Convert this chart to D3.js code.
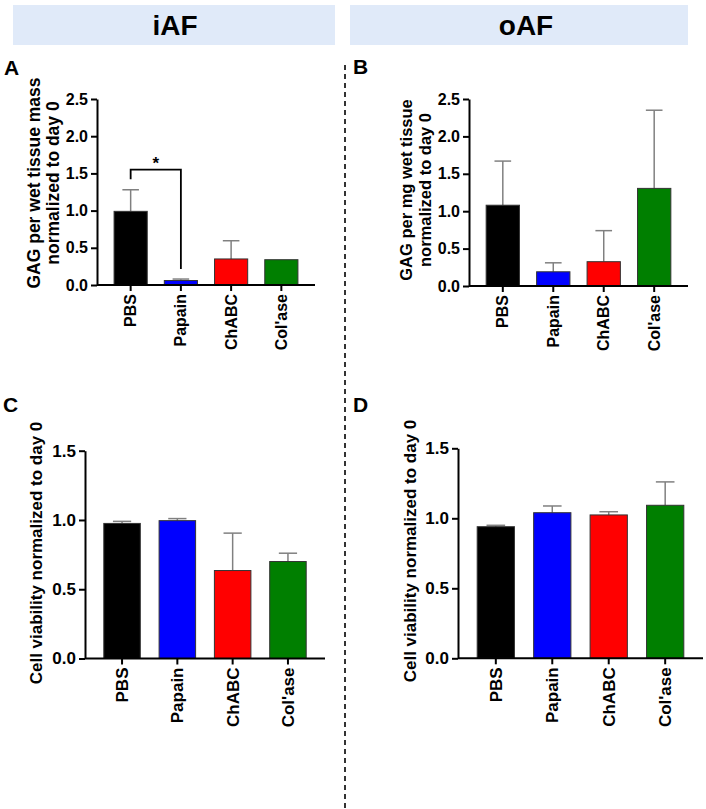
<!DOCTYPE html>
<html>
<head>
<meta charset="utf-8">
<script src="https://cdn.jsdelivr.net/npm/d3@7"></script>
<style>
  html, body { margin: 0; padding: 0; background: #fff; }
  svg { display: block; }
  text { font-family: "Liberation Sans", Arial, sans-serif; font-weight: bold; fill: #000; }
</style>
</head>
<body>
<svg id="chart" width="706" height="809"></svg>
<script>
// ---------- data ----------
const categories = ["PBS", "Papain", "ChABC", "Col'ase"];
const barColors = ["#000000", "#0000ff", "#ff0000", "#007f00"];

const gagIafMean = [0.99, 0.06, 0.35, 0.34];
const gagIafSd   = [0.29, 0.02, 0.245, 0.0];
const gagOafMean = [1.08, 0.19, 0.325, 1.305];
const gagOafSd   = [0.59, 0.12, 0.415, 1.045];
const viaIafMean = [0.975, 0.995, 0.635, 0.70];
const viaIafSd   = [0.015, 0.015, 0.27, 0.06];
const viaOafMean = [0.94, 1.04, 1.024, 1.093];
const viaOafSd   = [0.01, 0.048, 0.023, 0.167];

const gagTicks = [0, 0.5, 1.0, 1.5, 2.0, 2.5];
const viaTicks = [0, 0.5, 1.0, 1.5];

const headers = ["iAF", "oAF"];
const yLabelA = ["GAG per wet tissue mass", "normalized to day 0"];
const yLabelB = ["GAG per mg wet tissue", "normalized to day 0"];
const yLabelCD = ["Cell viability normalized to day 0"];

// significance bracket (panel A): PBS vs Papain
const sigPair = ["PBS", "Papain"];
const sigLevels = { top: 1.55, leftEnd: 1.42, rightEnd: 0.215, star: 1.66 };
const sigLabel = "*";

// ---------- layout ----------
const svg = d3.select("#chart");

const headerBoxes = [
  { x0: 13, x1: 335, cx: 175 },
  { x0: 350, x1: 688, cx: 526 }
];
headerBoxes.forEach((b, i) => {
  svg.append("rect").attr("x", b.x0).attr("y", 5).attr("width", b.x1 - b.x0).attr("height", 40)
    .attr("fill", "#e0eaf9");
  svg.append("text").attr("x", b.cx).attr("y", 35).attr("text-anchor", "middle")
    .style("font-size", "28px").text(headers[i]);
});

svg.append("line").attr("x1", 345).attr("x2", 345).attr("y1", 65).attr("y2", 809)
  .attr("stroke", "#333").attr("stroke-width", 2).attr("stroke-dasharray", "5,4");

const panels = [
  { letter: "A", lx: 4, ly: 75, mean: gagIafMean, sd: gagIafSd, ticks: gagTicks, max: 2.5,
    xr: [97, 315], y0: 285, y1: 99, label: yLabelA, labelX: [40, 59], labelCY: 183,
    tickFont: 16, xFont: 16, labelFont: 17.5, sig: true },
  { letter: "B", lx: 353, ly: 74, mean: gagOafMean, sd: gagOafSd, ticks: gagTicks, max: 2.5,
    xr: [469, 688], y0: 286, y1: 99, label: yLabelB, labelX: [412, 431], labelCY: 190,
    tickFont: 16, xFont: 16, labelFont: 16.5 },
  { letter: "C", lx: 3, ly: 412, mean: viaIafMean, sd: viaIafSd, ticks: viaTicks, max: 1.5,
    xr: [85, 325], y0: 658.5, y1: 450.7, label: yLabelCD, labelX: [42], labelCY: 553,
    tickFont: 17, xFont: 17, labelFont: 17 },
  { letter: "D", lx: 353, ly: 412, mean: viaOafMean, sd: viaOafSd, ticks: viaTicks, max: 1.5,
    xr: [458, 703], y0: 658.3, y1: 448.3, label: yLabelCD, labelX: [416], labelCY: 551,
    tickFont: 17, xFont: 17, labelFont: 17 }
];

panels.forEach(p => {
  const g = svg.append("g");
  g.append("text").attr("x", p.lx).attr("y", p.ly).style("font-size", "21px").text(p.letter);

  const x = d3.scaleBand().domain(categories).range(p.xr).paddingInner(0.34).paddingOuter(0.34);
  const y = d3.scaleLinear().domain([0, p.max]).range([p.y0, p.y1]);

  const rows = categories.map((c, i) => ({ c, m: p.mean[i], s: p.sd[i], col: barColors[i] }));

  const capW = x.bandwidth() * 0.5;
  rows.filter(d => d.s > 0).forEach(d => {
    const cx = x(d.c) + x.bandwidth() / 2;
    g.append("line").attr("x1", cx).attr("x2", cx).attr("y1", y(d.m)).attr("y2", y(d.m + d.s))
      .attr("stroke", "#808080").attr("stroke-width", 1.5);
    g.append("line").attr("x1", cx - capW / 2).attr("x2", cx + capW / 2)
      .attr("y1", y(d.m + d.s)).attr("y2", y(d.m + d.s))
      .attr("stroke", "#808080").attr("stroke-width", 1.5);
  });

  g.selectAll("rect.bar").data(rows).enter().append("rect").attr("class", "bar")
    .attr("x", d => x(d.c)).attr("width", x.bandwidth())
    .attr("y", d => y(d.m)).attr("height", d => y(0) - y(d.m))
    .attr("fill", d => d.col).attr("stroke", "#333").attr("stroke-width", 1);

  const ya = g.append("g").attr("transform", `translate(${p.xr[0]},0)`)
    .call(d3.axisLeft(y).tickValues(p.ticks).tickFormat(d3.format(".1f")).tickSize(6).tickPadding(3).tickSizeOuter(0));
  ya.select(".domain").attr("stroke", "#000").attr("stroke-width", 2);
  ya.selectAll(".tick line").attr("stroke", "#000").attr("stroke-width", 2);
  ya.selectAll(".tick text").style("font-size", p.tickFont + "px")
    .style("font-family", "'Liberation Sans', Arial, sans-serif").style("font-weight", "bold").attr("fill", "#000");

  const xa = g.append("g").attr("transform", `translate(0,${p.y0})`)
    .call(d3.axisBottom(x).tickSize(6).tickSizeOuter(0));
  xa.select(".domain").attr("stroke", "#000").attr("stroke-width", 2)
    .attr("d", `M${p.xr[0]},0H${p.xr[1]}`);
  xa.selectAll(".tick line").attr("stroke", "#000").attr("stroke-width", 2);
  xa.selectAll(".tick text")
    .attr("transform", "rotate(-90)").attr("x", -9).attr("y", 0).attr("dy", "0.35em")
    .attr("text-anchor", "end")
    .style("font-size", p.xFont + "px")
    .style("font-family", "'Liberation Sans', Arial, sans-serif").style("font-weight", "bold").attr("fill", "#000");

  p.label.forEach((t, i) => {
    g.append("text").attr("transform", `translate(${p.labelX[i]},${p.labelCY}) rotate(-90)`)
      .attr("text-anchor", "middle").style("font-size", p.labelFont + "px").text(t);
  });

  if (p.sig) {
    const xl = x(sigPair[0]) + x.bandwidth() / 2;
    const xr = x(sigPair[1]) + x.bandwidth() / 2;
    const path = d3.path();
    path.moveTo(xl, y(sigLevels.leftEnd));
    path.lineTo(xl, y(sigLevels.top));
    path.lineTo(xr, y(sigLevels.top));
    path.lineTo(xr, y(sigLevels.rightEnd));
    g.append("path").attr("d", path.toString()).attr("fill", "none")
      .attr("stroke", "#000").attr("stroke-width", 1.8);
    g.append("text").attr("x", (xl + xr) / 2).attr("y", y(sigLevels.star) + 8)
      .attr("text-anchor", "middle").style("font-size", "17px").attr("fill", "#1a2340").text(sigLabel);
  }
});
</script>
</body>
</html>
